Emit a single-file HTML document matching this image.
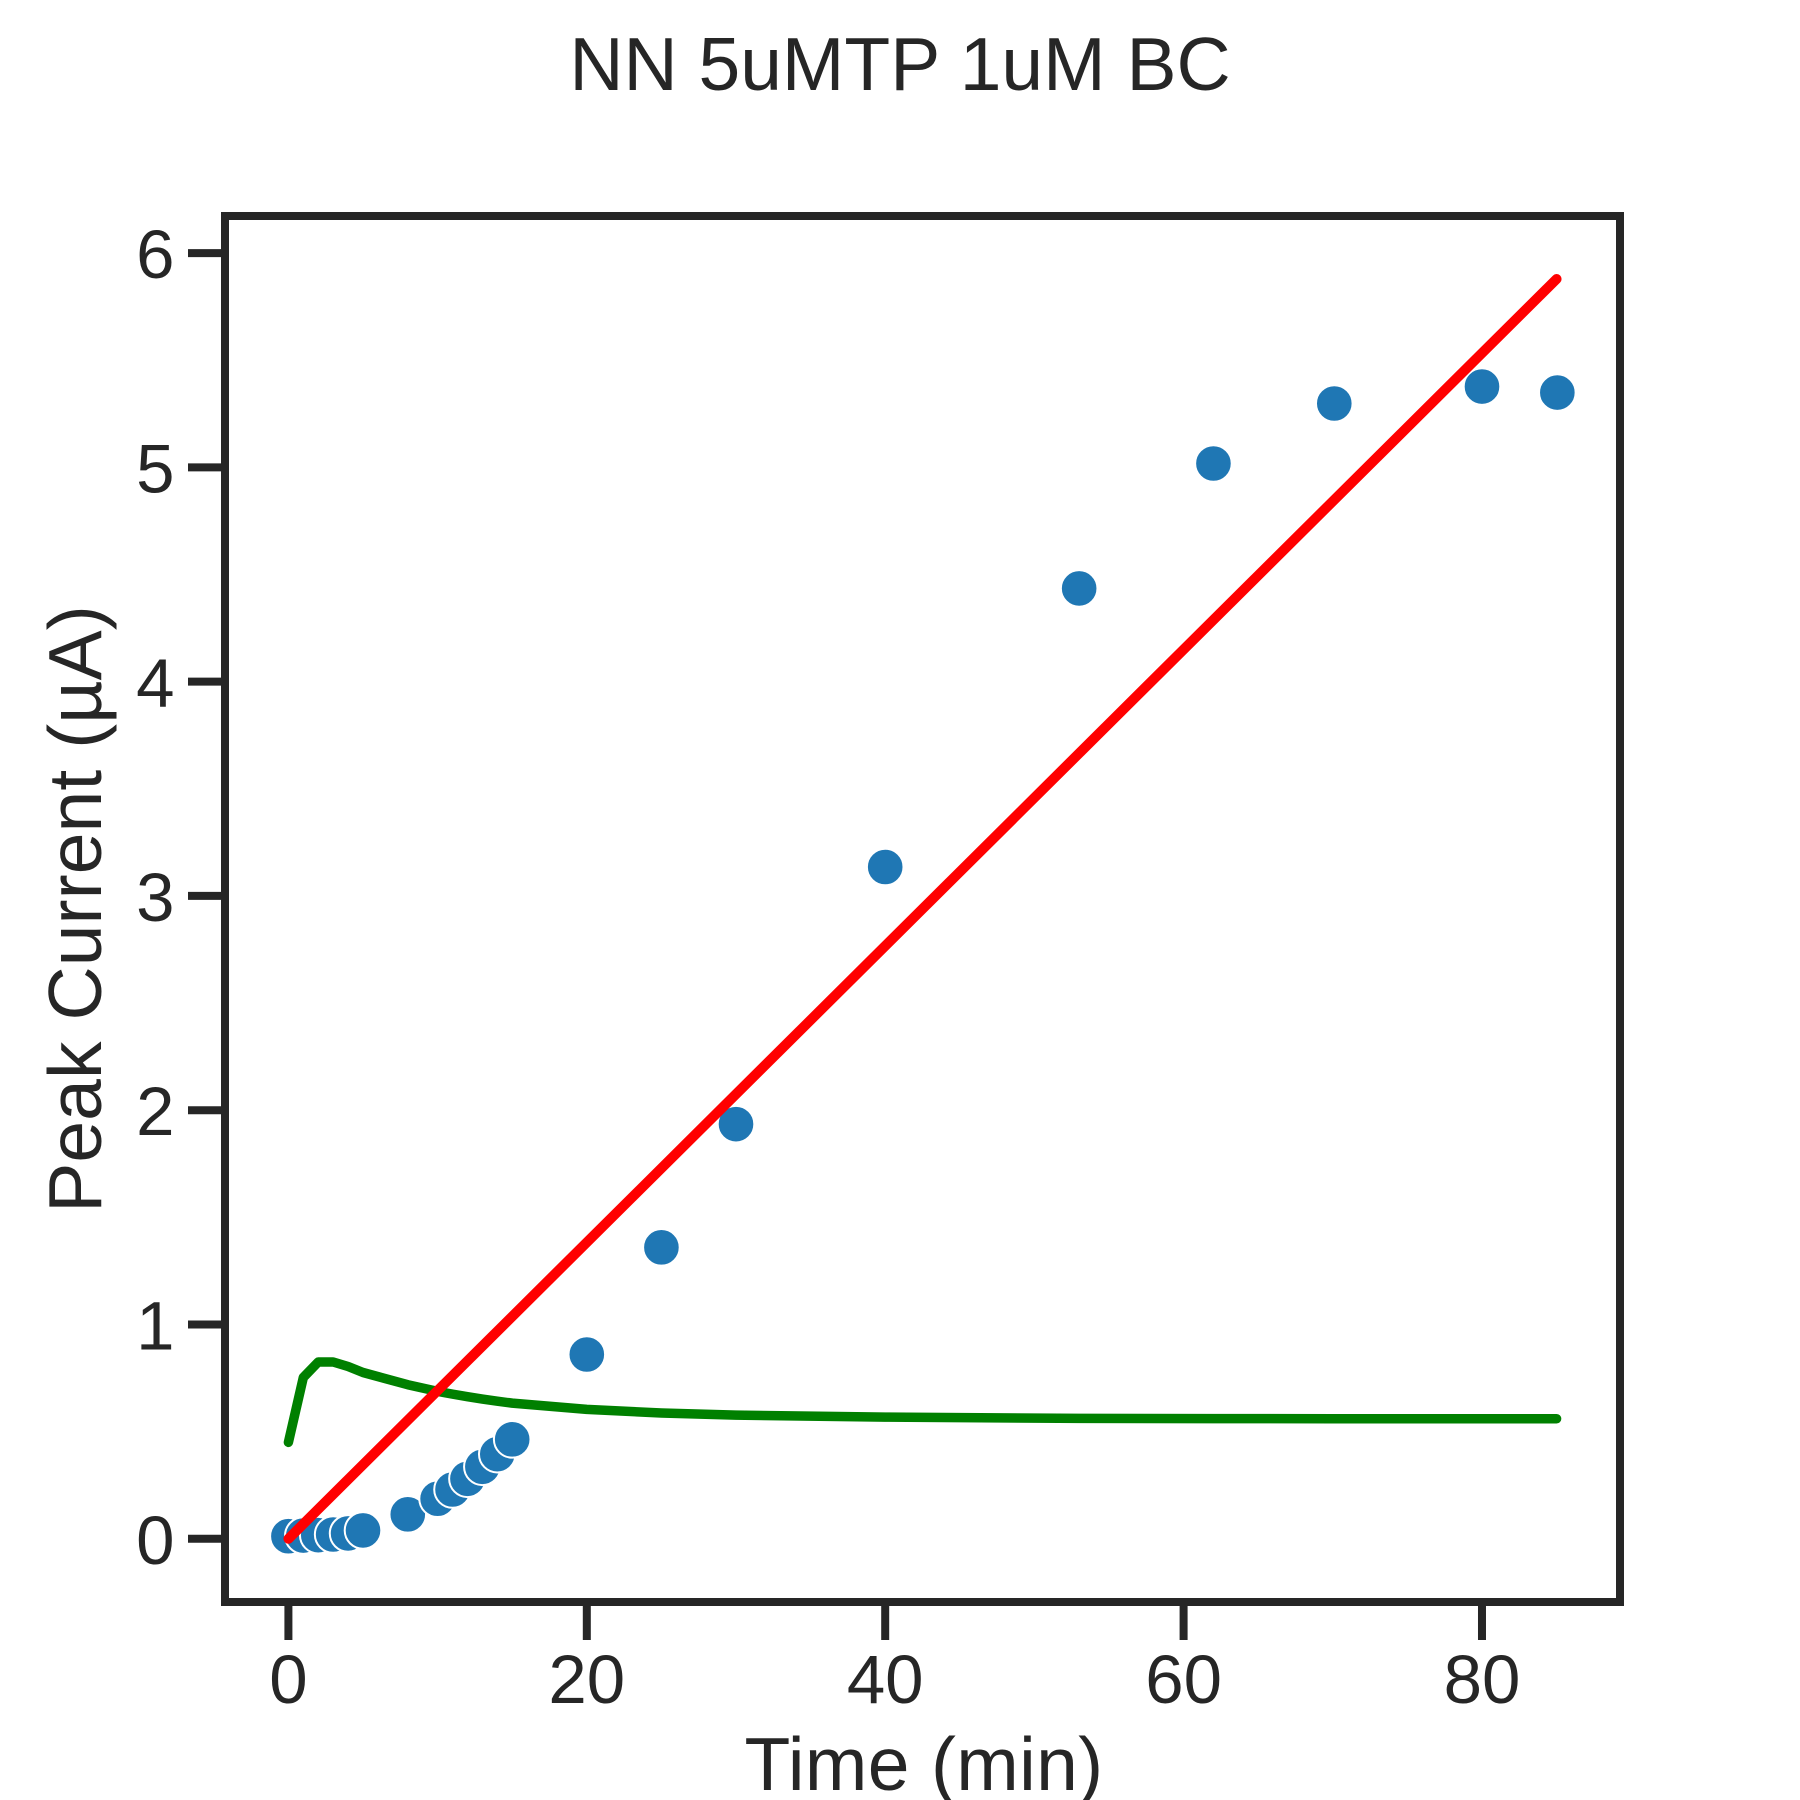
<!DOCTYPE html>
<html lang="en">
<head>
<meta charset="utf-8">
<title>NN 5uMTP 1uM BC</title>
<style>
  html, body { margin: 0; padding: 0; background: #ffffff; }
  body { width: 1800px; height: 1800px; overflow: hidden; }
  svg { display: block; }
  text { font-family: "Liberation Sans", Arial, sans-serif; fill: #262626; }
</style>
</head>
<body>
<svg id="chart" xmlns="http://www.w3.org/2000/svg" width="1800" height="1800" viewBox="0 0 1800 1800">
  <rect x="0" y="0" width="1800" height="1800" fill="#ffffff"/>
  <text x="900" y="90" font-size="75" text-anchor="middle">NN 5uMTP 1uM BC</text>
  <g id="ticks"></g>
  <g id="points"></g>
  <polyline id="green-line" fill="none" stroke="#008000" stroke-width="9.5" stroke-linecap="round" stroke-linejoin="round"/>
  <polyline id="red-line" fill="none" stroke="#ff0000" stroke-width="10" stroke-linecap="round" stroke-linejoin="round"/>
  <rect x="225" y="216" width="1395" height="1386" fill="none" stroke="#262626" stroke-width="8"/>
  <text x="924" y="1790" font-size="75" text-anchor="middle" letter-spacing="0.35">Time (min)</text>
  <text transform="translate(101 909) rotate(-90)" font-size="75" text-anchor="middle" letter-spacing="0.1">Peak Current (µA)</text>
</svg>
<script>
const times = [0, 1, 2, 3, 4, 5, 8, 10, 11, 12, 13, 14, 15, 20, 25, 30, 40, 53, 62, 70.1, 80, 85.05];
const peakCurrent = [0.012, 0.015, 0.017, 0.02, 0.025, 0.039, 0.114, 0.187, 0.23, 0.28, 0.336, 0.395, 0.464, 0.86, 1.36, 1.935, 3.135, 4.435, 5.018, 5.298, 5.377, 5.349];
const greenTimes = [0, 1, 2, 3, 4, 5, 8, 10, 11, 12, 13, 14, 15, 20, 25, 30, 40, 53, 62, 70, 80, 85];
const greenCurve = [0.45, 0.753, 0.825, 0.825, 0.804, 0.776, 0.719, 0.688, 0.675, 0.663, 0.652, 0.642, 0.633, 0.604, 0.587, 0.577, 0.568, 0.562, 0.561, 0.56, 0.56, 0.56];
const fitTimes = [0, 85];
const fitValues = [0, 5.879];
const xTickValues = [0, 20, 40, 60, 80];
const yTickValues = [0, 1, 2, 3, 4, 5, 6];

const X_MIN = -4.25, X_MAX = 89.25, Y_MIN = -0.295, Y_MAX = 6.173;
const PLOT_LEFT = 225, PLOT_RIGHT = 1620, PLOT_TOP = 216, PLOT_BOTTOM = 1602;
const SVG_NS = 'http://www.w3.org/2000/svg';

function sx(v) { return PLOT_LEFT + (v - X_MIN) / (X_MAX - X_MIN) * (PLOT_RIGHT - PLOT_LEFT); }
function sy(v) { return PLOT_BOTTOM - (v - Y_MIN) / (Y_MAX - Y_MIN) * (PLOT_BOTTOM - PLOT_TOP); }
function make(tag, attrs) {
  const el = document.createElementNS(SVG_NS, tag);
  Object.keys(attrs).forEach(function (k) { el.setAttribute(k, attrs[k]); });
  return el;
}

const ticksGroup = document.getElementById('ticks');
xTickValues.forEach(function (v) {
  const tick = make('line', { x1: sx(v), x2: sx(v), y1: PLOT_BOTTOM, y2: PLOT_BOTTOM + 38, stroke: '#262626', 'stroke-width': 8 });
  
  
  ticksGroup.appendChild(tick);
  const label = make('text', { x: sx(v), y: 1703, 'font-size': 69, 'text-anchor': 'middle' });
  
  
  label.textContent = String(v);
  ticksGroup.appendChild(label);
});
yTickValues.forEach(function (v) {
  const tick = make('line', { x1: PLOT_LEFT - 37, x2: PLOT_LEFT, y1: sy(v), y2: sy(v), stroke: '#262626', 'stroke-width': 8 });
  
  
  ticksGroup.appendChild(tick);
  const label = make('text', { x: 174.5, y: sy(v) + 25, 'font-size': 69, 'text-anchor': 'end' });
  
  
  label.textContent = String(v);
  ticksGroup.appendChild(label);
});

const pointsGroup = document.getElementById('points');
times.forEach(function (t, i) {
  const dot = make('circle', { cx: sx(t), cy: sy(peakCurrent[i]), r: 18.3, fill: '#1f77b4', stroke: '#ffffff', 'stroke-width': 2 });
  
  
  pointsGroup.appendChild(dot);
});

document.getElementById('green-line').setAttribute('points',
  greenTimes.map(function (t, i) { return sx(t) + ',' + sy(greenCurve[i]); }).join(' '));
document.getElementById('red-line').setAttribute('points',
  fitTimes.map(function (t, i) { return sx(t) + ',' + sy(fitValues[i]); }).join(' '));
</script>
</body>
</html>
